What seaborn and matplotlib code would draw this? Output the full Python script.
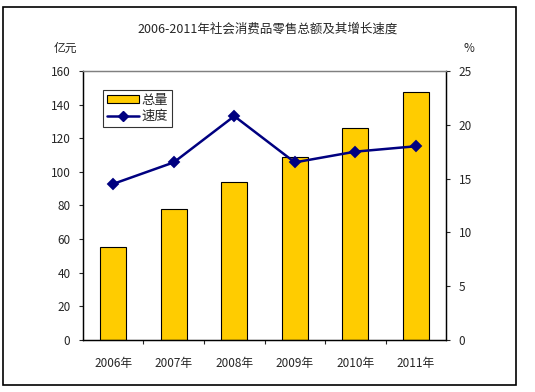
import numpy as np
import pandas as pd
import matplotlib
matplotlib.use("Agg")
import matplotlib.pyplot as plt
import seaborn as sns
from matplotlib.patches import Rectangle
from matplotlib.lines import Line2D
from matplotlib.patches import Patch

sns.set_style("white")
plt.rcParams['font.family'] = ['Noto Sans CJK SC', 'DejaVu Sans']

# data
years = ["2006年", "2007年", "2008年", "2009年", "2010年", "2011年"]
total = [55.2, 77.8, 93.9, 109.0, 126.0, 147.5]   # 亿元
growth = [14.5, 16.5, 20.8, 16.5, 17.5, 18.0]     # %

bar_color = "#FFCC00"
line_color = "#000080"

df = pd.DataFrame({"year": years, "total": total, "growth": growth})

fig = plt.figure(figsize=(5.35, 3.92), dpi=100)
ax = fig.add_axes([0.155, 0.133, 0.679, 0.686])

sns.barplot(data=df, x="year", y="total", ax=ax, color=bar_color,
            width=0.43, edgecolor="black", linewidth=0.8, saturation=1)
ax.set_ylim(0, 160)
ax.set_yticks(np.arange(0, 161, 20))
ax.set_xlim(-0.5, len(years) - 0.5)
ax.set_xlabel("")
ax.set_ylabel("")

ax2 = ax.twinx()
sns.pointplot(data=df, x="year", y="growth", ax=ax2, color=line_color,
              markers="D", markersize=5, linewidth=1.8)
ax2.set_ylim(0, 25)
ax2.set_yticks(np.arange(0, 26, 5))
ax2.set_xlim(-0.5, len(years) - 0.5)
ax2.set_ylabel("")
ax2.set_xlabel("")

for a in (ax, ax2):
    for side in ("left", "right", "bottom"):
        a.spines[side].set_color("black")
        a.spines[side].set_linewidth(0.9)
    a.spines["top"].set_color("#808080")
    a.spines["top"].set_linewidth(0.9)

ax.tick_params(axis="y", direction="out", length=3, width=0.8, labelsize=8.5, pad=6, left=True)
ax2.tick_params(axis="y", direction="out", length=3, width=0.8, labelsize=8.5, pad=6, right=True)
ax.tick_params(axis="x", which="major", length=0, labelsize=8.5, pad=12)
ax.set_xticks(np.arange(0.5, len(years) - 1, 1), minor=True)
ax.tick_params(axis="x", which="minor", direction="out", length=3, width=0.8, bottom=True)

handles = [Patch(facecolor=bar_color, edgecolor="black", linewidth=0.8),
           Line2D([0], [0], color=line_color, marker="D", markersize=5, linewidth=1.8)]
leg = ax2.legend(handles, ["总量", "速度"], loc="upper left", bbox_to_anchor=(0.055, 0.93),
                 fontsize=9.5, frameon=True, fancybox=False, edgecolor="black",
                 handlelength=2.4, handleheight=0.5, handletextpad=0.2, borderpad=0.3,
                 labelspacing=0.25, borderaxespad=0)
leg.get_frame().set_linewidth(0.8)

fig.text(0.5, 0.925, "2006-2011年社会消费品零售总额及其增长速度", ha="center", va="center", fontsize=9)
fig.text(0.122, 0.877, "亿元", ha="center", va="center", fontsize=8.5)
fig.text(0.877, 0.877, "%", ha="center", va="center", fontsize=8.5)

fig.patches.append(Rectangle((0.006, 0.018), 0.958, 0.964, transform=fig.transFigure,
                             fill=False, edgecolor="black", linewidth=1.2))

fig.savefig("out.png", dpi=100)
